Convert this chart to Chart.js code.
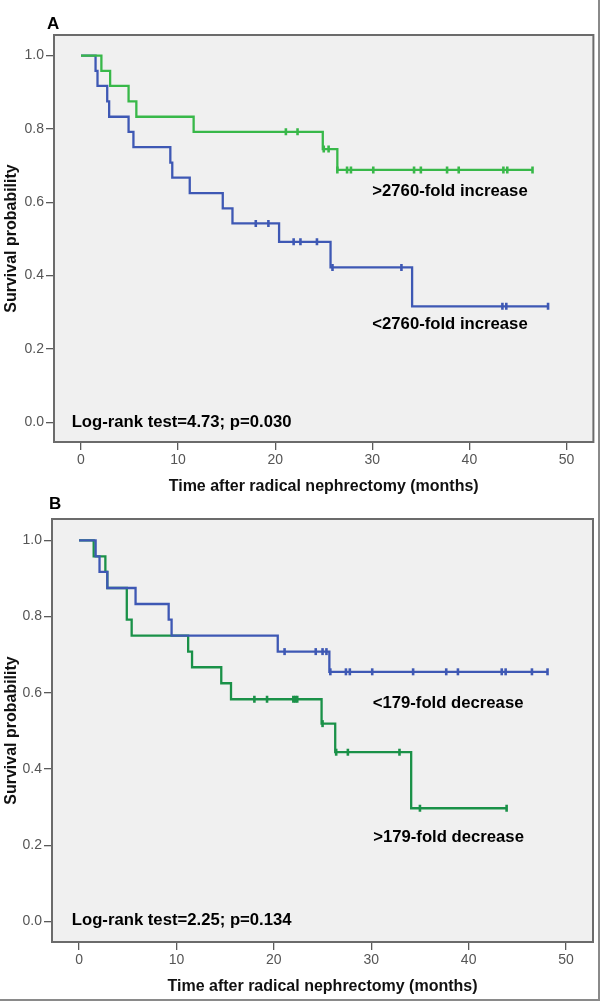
<!DOCTYPE html>
<html><head><meta charset="utf-8">
<script src="https://cdn.jsdelivr.net/npm/chart.js@4.4.1/dist/chart.umd.min.js"></script>
<style>
html,body{margin:0;padding:0;background:#fff;}
#wrap{position:relative;width:600px;height:1001px;box-sizing:border-box;border-right:2px solid #8a8a8a;border-bottom:2px solid #8a8a8a;}
.panel{position:absolute;left:0;width:600px;height:500px;}
.lbl{position:absolute;font:bold 17px "Liberation Sans",Arial,sans-serif;color:#000;line-height:20px;}
</style></head>
<body><div id="wrap">
<div class="panel" style="top:0"><canvas id="cA" width="600" height="500"></canvas></div>
<div class="panel" style="top:500px"><canvas id="cB" width="600" height="500"></canvas></div>
<div class="lbl" style="left:47px;top:14px">A</div>
<div class="lbl" style="left:49px;top:494px">B</div>
</div>
<script>
// ---------- Data ----------
const xTicks = [0, 10, 20, 30, 40, 50];
const yTicks = [0, 0.2, 0.4, 0.6, 0.8, 1.0];

// Panel A: >2760-fold increase (green)
const aHighT = [0, 2.1, 3.0, 4.9, 5.7, 11.6, 24.9, 26.4];
const aHighS = [1.0, 0.958, 0.917, 0.875, 0.833, 0.792, 0.745, 0.688];
const aHighCensor = [21.1, 22.3, 25.0, 25.5, 26.4, 27.4, 27.8, 30.1, 34.3, 35.0, 37.7, 38.9, 43.5, 43.9, 46.5];

// Panel A: <2760-fold increase (blue)
const aLowT = [0, 1.5, 1.7, 2.7, 2.9, 4.9, 5.4, 9.2, 9.4, 11.2, 14.6, 15.6, 20.4, 25.7, 34.1];
const aLowS = [1.0, 0.958, 0.917, 0.875, 0.833, 0.792, 0.750, 0.708, 0.667, 0.625, 0.583, 0.542, 0.492, 0.422, 0.316];
const aLowCensor = [18.0, 19.3, 21.9, 22.6, 24.3, 25.9, 33.0, 43.4, 43.8, 48.1];

// Panel B: <179-fold decrease (blue)
const bLowT = [0, 1.7, 2.1, 2.9, 5.8, 9.2, 9.5, 20.4, 25.7];
const bLowS = [1.0, 0.958, 0.917, 0.875, 0.833, 0.792, 0.750, 0.708, 0.655];
const bLowCensor = [21.1, 24.3, 25.0, 25.4, 25.8, 27.4, 27.8, 30.1, 34.3, 37.7, 38.9, 43.4, 43.8, 46.5, 48.1];

// Panel B: >179-fold decrease (green)
const bHighT = [0, 1.5, 2.7, 2.9, 4.9, 4.9, 5.4, 11.2, 11.6, 14.6, 15.6, 24.9, 26.3, 34.1];
const bHighS = [1.0, 0.958, 0.917, 0.875, 0.833, 0.792, 0.750, 0.708, 0.667, 0.625, 0.583, 0.519, 0.444, 0.297];
const bHighCensor = [18.0, 19.3, 22.0, 22.2, 22.4, 25.0, 26.4, 27.6, 32.9, 35.0, 43.9];

// Texts
const labelsA = [">2760-fold increase", "<2760-fold increase", "Log-rank test=4.73; p=0.030"];
const labelsB = ["<179-fold decrease", ">179-fold decrease", "Log-rank test=2.25; p=0.134"];
const xTitle = "Time after radical nephrectomy (months)";
const yTitle = "Survival probability";

// ---------- Styles ----------
const FONT = '"Liberation Sans", Arial, Helvetica, sans-serif';
const GREEN_A = '#38b849';
const BLUE = '#3e58b4';
const GREEN_B = '#1a9148';

function levelAt(T, S, t) {
  let v = S[0];
  for (let i = 0; i < T.length; i++) if (T[i] <= t + 1e-9) v = S[i];
  return v;
}
function kmDatasets(T, S, C, color) {
  const line = T.map((t, i) => ({x: t, y: S[i]}));
  const last = Math.max(...C, T[T.length - 1]);
  line.push({x: last, y: S[S.length - 1]});
  const marks = C.map(t => ({x: t, y: levelAt(T, S, t)}));
  return [
    {type: 'line', data: line, stepped: true, borderColor: color, borderWidth: 2.3,
     pointRadius: 0, fill: false, tension: 0, order: 2},
    {type: 'scatter', data: marks, showLine: false, pointStyle: 'line', rotation: 90,
     pointRadius: 3.5, borderColor: color, backgroundColor: color, pointBorderWidth: 2.6, order: 1}
  ];
}

const framePlugin = {
  id: 'frame',
  beforeDraw(chart) {
    const {ctx, chartArea: a} = chart;
    ctx.save();
    ctx.fillStyle = '#f0f0f0';
    ctx.fillRect(a.left, a.top, a.right - a.left, a.bottom - a.top);
    ctx.restore();
  },
  afterDatasetsDraw(chart, args, opts) {
    const {ctx, scales} = chart;
    ctx.save();
    ctx.fillStyle = '#000';
    ctx.font = 'bold 16.7px ' + FONT;
    ctx.textBaseline = 'middle';
    ctx.textAlign = 'left';
    (opts.notes || []).forEach(n => {
      ctx.fillText(n.text, scales.x.getPixelForValue(n.x), scales.y.getPixelForValue(n.y));
    });
    ctx.restore();
  },
  afterDraw(chart) {
    const {ctx, chartArea: a} = chart;
    ctx.save();
    ctx.strokeStyle = '#6b6b6b';
    ctx.lineWidth = 2;
    ctx.strokeRect(a.left, a.top, a.right - a.left, a.bottom - a.top);
    ctx.restore();
  }
};

function makeChart(id, datasets, notes, pad, yWidth) {
  return new Chart(document.getElementById(id), {
    type: 'scatter',
    data: {datasets},
    plugins: [framePlugin],
    options: {
      responsive: false,
      animation: false,
      layout: {padding: {top: pad.top, right: pad.right, left: 0, bottom: 0}},
      plugins: {legend: {display: false}, tooltip: {enabled: false}, frame: {notes}},
      scales: {
        x: {
          type: 'linear', min: -2.78, max: 52.77,
          afterBuildTicks: s => { s.ticks = xTicks.map(v => ({value: v})); },
          afterFit: s => { s.height = 58; },
          grid: {drawOnChartArea: false, drawTicks: true, tickLength: 8, color: '#5a5a5a', lineWidth: 1.3},
          border: {display: false},
          ticks: {color: '#555', font: {family: FONT, size: 14}, padding: 2,
                  callback: v => String(v)},
          title: {display: true, text: xTitle, color: '#111',
                  font: {family: FONT, size: 16, weight: 'bold'}, padding: {top: 0, bottom: 4}}
        },
        y: {
          type: 'linear', min: -0.054, max: 1.056,
          afterBuildTicks: s => { s.ticks = yTicks.map(v => ({value: v})); },
          afterFit: s => { s.width = yWidth; },
          grid: {drawOnChartArea: false, drawTicks: true, tickLength: 8, color: '#5a5a5a', lineWidth: 1.3},
          border: {display: false},
          ticks: {color: '#555', font: {family: FONT, size: 14}, padding: 2,
                  callback: v => Number(v).toFixed(1)},
          title: {display: true, text: yTitle, color: '#111',
                  font: {family: FONT, size: 16, weight: 'bold'}, padding: {top: 2, bottom: 0}}
        }
      }
    }
  });
}

makeChart('cA',
  [...kmDatasets(aHighT, aHighS, aHighCensor, GREEN_A), ...kmDatasets(aLowT, aLowS, aLowCensor, BLUE)],
  [{text: labelsA[0], x: 30.0, y: 0.63},
   {text: labelsA[1], x: 30.0, y: 0.2675},
   {text: labelsA[2], x: -0.96, y: 0.0}],
  {top: 35, right: 6}, 54);

makeChart('cB',
  [...kmDatasets(bLowT, bLowS, bLowCensor, BLUE), ...kmDatasets(bHighT, bHighS, bHighCensor, GREEN_B)],
  [{text: labelsB[0], x: 30.15, y: 0.572},
   {text: labelsB[1], x: 30.2, y: 0.22},
   {text: labelsB[2], x: -0.75, y: 0.003}],
  {top: 19, right: 7}, 52);
</script>
</body></html>
